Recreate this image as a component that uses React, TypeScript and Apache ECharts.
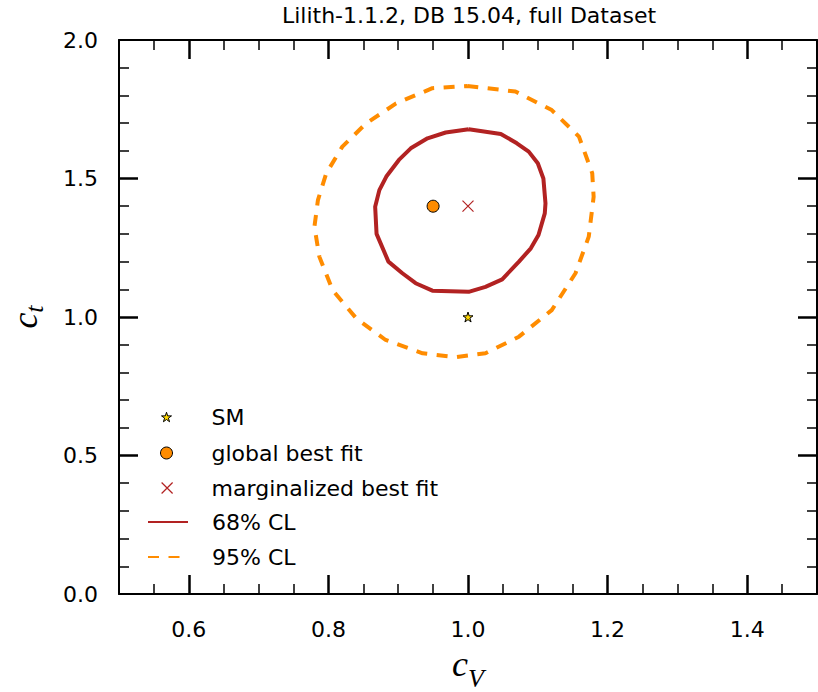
import React, { useEffect, useRef } from "react";
import * as echarts from "echarts";

const titleText = "Lilith-1.1.2, DB 15.04, full Dataset";

const xMajorTicks = [0.6, 0.8, 1.0, 1.2, 1.4];
const xMinorTicks = [0.55, 0.65, 0.7, 0.75, 0.85, 0.9, 0.95, 1.05, 1.1, 1.15, 1.25, 1.3, 1.35, 1.45];
const yMajorTicks = [0.5, 1.0, 1.5];
const yMinorTicks = [0.1, 0.2, 0.3, 0.4, 0.6, 0.7, 0.8, 0.9, 1.1, 1.2, 1.3, 1.4, 1.6, 1.7, 1.8, 1.9];
const yTickLabels = [0.0, 0.5, 1.0, 1.5, 2.0];

const smPoint = [[1.0, 1.0]];
const globalBestFit = [[0.95, 1.4]];
const marginalizedBestFit = [[1.0, 1.4]];

const cl68Points = [
  [1.001, 1.678], [1.047, 1.661], [1.07, 1.627], [1.087, 1.597], [1.1, 1.555],
  [1.108, 1.5], [1.111, 1.41], [1.11, 1.374], [1.101, 1.296], [1.09, 1.248],
  [1.073, 1.2], [1.049, 1.136], [1.025, 1.109], [1.001, 1.091], [0.949, 1.095],
  [0.925, 1.122], [0.906, 1.158], [0.886, 1.2], [0.869, 1.3], [0.867, 1.398],
  [0.873, 1.458], [0.883, 1.507], [0.901, 1.567], [0.918, 1.609], [0.942, 1.645],
  [0.968, 1.666], [1.001, 1.678],
];

const cl95Points = [
  [0.999, 1.834], [1.068, 1.814], [1.12, 1.747], [1.159, 1.651], [1.178, 1.519],
  [1.18, 1.434], [1.173, 1.29], [1.154, 1.158], [1.12, 1.025], [1.073, 0.929],
  [1.025, 0.869], [0.982, 0.855], [0.935, 0.869], [0.882, 0.917], [0.84, 0.995],
  [0.806, 1.097], [0.787, 1.218], [0.78, 1.326], [0.785, 1.422], [0.797, 1.519],
  [0.82, 1.615], [0.854, 1.699], [0.897, 1.771], [0.949, 1.826], [0.999, 1.834],
];

const STAR =
  "path://M50,0L61.17,34.63L97.55,34.55L68.07,55.87L79.39,90.45L50,69L20.61,90.45L31.93,55.87L2.45,34.55L38.83,34.63Z";
const CROSS = "path://M0,0L10,10M10,0L0,10";

const FONT = "DejaVu Sans";
const SERIF = "Liberation Serif";
const RED = "#B22222";
const ORANGE = "#FF8C00";
const STAR_YELLOW = "#FFD700";

const xNameRich = {
  c: { fontFamily: SERIF, fontStyle: "italic", fontSize: 36, lineHeight: 36, color: "#000" },
  s: { fontFamily: SERIF, fontStyle: "italic", fontSize: 26, lineHeight: 36, padding: [28, 0, 0, 0], color: "#000" },
};
const yNameRich = {
  c: { fontFamily: SERIF, fontStyle: "italic", fontSize: 36, lineHeight: 40, verticalAlign: "top", color: "#000" },
  s: { fontFamily: SERIF, fontStyle: "italic", fontSize: 26, lineHeight: 26, padding: [28, 0, 0, 0], verticalAlign: "bottom", color: "#000" },
};

export default function App() {
  const ref = useRef<HTMLDivElement>(null);
  useEffect(() => {
    if (!ref.current) return;
    const chart = echarts.init(ref.current, undefined, { renderer: "svg" });

    const xBase = { type: "value", min: 0.5, max: 1.5, gridIndex: 0, splitLine: { show: false } };
    const yBase = { type: "value", min: 0, max: 2, gridIndex: 0, splitLine: { show: false } };
    const line = { show: true, onZero: false, lineStyle: { color: "#000", width: 2 } };
    const noLine = { show: false, onZero: false };
    const majorTick = (vals: number[]) => ({
      show: true, inside: true, length: 19, customValues: vals, lineStyle: { color: "#000", width: 2.5 },
    });
    const minorTick = (vals: number[]) => ({
      show: true, inside: true, length: 10, customValues: vals, lineStyle: { color: "#000", width: 1.5 },
    });

    const textStyle = (padLeft: number) => ({
      fontFamily: FONT, fontSize: 22, color: "#000", lineHeight: 24, padding: [0, 0, 0, padLeft],
    });

    // marker legends: square icon centred at x = 166; text starts at x = 211
    const markerLegend = (name: string, centerY: number, size: number, color: string, border: string, bw: number) => {
      const left = Math.round(166 - size / 2);
      return {
        data: [{ name, itemStyle: { color, borderColor: border, borderWidth: bw } }],
        left,
        top: centerY - 12,
        orient: "vertical",
        padding: 0,
        itemWidth: size,
        itemHeight: size,
        selectedMode: false,
        itemStyle: { borderWidth: bw },
        textStyle: textStyle(211 - left - size - 5),
      };
    };
    const lineLegend = (name: string, centerY: number) => ({
      data: [name],
      left: 147,
      top: centerY - 12,
      orient: "vertical",
      padding: 0,
      itemWidth: 40,
      itemHeight: 4,
      selectedMode: false,
      itemStyle: { opacity: 0, borderWidth: 0 },
      textStyle: textStyle(211 - 147 - 40 - 5),
    });

    chart.setOption({
      animation: false,
      backgroundColor: "#fff",
      title: {
        text: titleText,
        left: 469,
        top: 4,
        padding: 0,
        textAlign: "center",
        textStyle: { fontFamily: FONT, fontSize: 22, fontWeight: "normal", color: "#000" },
      },
      grid: { left: 119, right: 1, top: 40, bottom: 98, containLabel: false, outerBoundsMode: "none" },
      legend: [
        markerLegend("SM", 417, 10, STAR_YELLOW, "#000", 1),
        markerLegend("global best fit", 453, 12, ORANGE, "#000", 1),
        markerLegend("marginalized best fit", 488, 11, RED, RED, 1.2),
        lineLegend("68% CL", 522),
        lineLegend("95% CL", 557),
      ],
      xAxis: [
        {
          ...xBase,
          position: "bottom",
          axisLine: line,
          axisTick: majorTick(xMajorTicks),
          axisLabel: {
            show: true, customValues: xMajorTicks, formatter: (v: number) => v.toFixed(1),
            fontFamily: FONT, fontSize: 22, color: "#000", margin: 24,
          },
          name: "{c|c}{s|V}",
          nameLocation: "middle",
          nameGap: 52,
          nameMoveOverlap: false,
          nameTextStyle: { rich: xNameRich },
        },
        { ...xBase, position: "bottom", axisLine: noLine, axisTick: minorTick(xMinorTicks), axisLabel: { show: false } },
        { ...xBase, position: "top", axisLine: line, axisTick: majorTick(xMajorTicks), axisLabel: { show: false } },
        { ...xBase, position: "top", axisLine: noLine, axisTick: minorTick(xMinorTicks), axisLabel: { show: false } },
      ],
      yAxis: [
        {
          ...yBase,
          position: "left",
          axisLine: line,
          axisTick: majorTick(yMajorTicks),
          axisLabel: {
            show: true, customValues: yTickLabels, formatter: (v: number) => v.toFixed(1),
            fontFamily: FONT, fontSize: 22, color: "#000", margin: 21,
          },
          name: "{c|c}{s|t}",
          nameLocation: "middle",
          nameRotate: 90,
          nameGap: 72,
          nameTextStyle: { rich: yNameRich },
        },
        { ...yBase, position: "left", axisLine: noLine, axisTick: minorTick(yMinorTicks), axisLabel: { show: false } },
        { ...yBase, position: "right", axisLine: line, axisTick: majorTick(yMajorTicks), axisLabel: { show: false } },
        { ...yBase, position: "right", axisLine: noLine, axisTick: minorTick(yMinorTicks), axisLabel: { show: false } },
      ],
      series: [
        {
          name: "95% CL",
          type: "line",
          data: cl95Points,
          xAxisIndex: 0,
          yAxisIndex: 0,
          symbol: "none",
          smooth: false,
          lineStyle: { color: ORANGE, width: 4, type: [11, 9.5] },
          itemStyle: { color: ORANGE },
          z: 2,
        },
        {
          name: "68% CL",
          type: "line",
          data: cl68Points,
          xAxisIndex: 0,
          yAxisIndex: 0,
          symbol: "none",
          smooth: false,
          lineStyle: { color: RED, width: 4 },
          itemStyle: { color: RED },
          z: 2,
        },
        {
          name: "SM",
          type: "scatter",
          data: smPoint,
          symbol: STAR,
          symbolSize: 10,
          itemStyle: { color: STAR_YELLOW, borderColor: "#000", borderWidth: 1, opacity: 1 },
          z: 3,
        },
        {
          name: "global best fit",
          type: "scatter",
          data: globalBestFit,
          symbol: "circle",
          symbolSize: 12,
          itemStyle: { color: ORANGE, borderColor: "#000", borderWidth: 1, opacity: 1 },
          z: 3,
        },
        {
          name: "marginalized best fit",
          type: "scatter",
          data: marginalizedBestFit,
          symbol: CROSS,
          symbolSize: 11,
          itemStyle: { color: RED, borderColor: RED, borderWidth: 1.2, opacity: 1 },
          z: 3,
        },
      ],
    });
    return () => chart.dispose();
  }, []);

  return (
    <div
      ref={ref}
      style={{ position: "fixed", left: 0, top: 0, width: 818, height: 692, background: "#fff" }}
    />
  );
}
